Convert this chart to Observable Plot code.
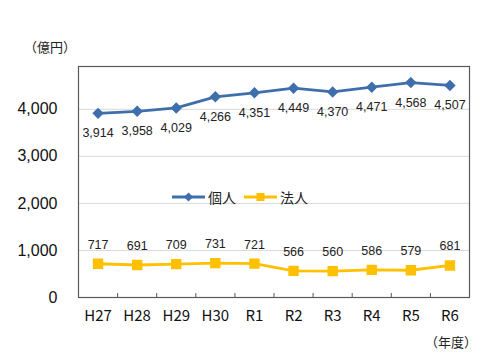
<!DOCTYPE html>
<html><head><meta charset="utf-8">
<script src="https://cdn.jsdelivr.net/npm/d3@7"></script>
<script src="https://cdn.jsdelivr.net/npm/@observablehq/plot@0.6"></script>
<style>
body{margin:0;background:#fff;font-family:"Noto Sans CJK JP",sans-serif;}
#wrap{position:relative;width:480px;height:353px;}
.lbl{position:absolute;font-size:13px;color:#222;white-space:nowrap;}
#legend{position:absolute;left:172px;top:187px;display:flex;align-items:center;font-size:14px;color:#222;}
#legend span{margin-right:8px;}
</style></head>
<body><div id="wrap"></div>
<script>
const years = ["H27","H28","H29","H30","R1","R2","R3","R4","R5","R6"];
const kojin = [3914,3958,4029,4266,4351,4449,4370,4471,4568,4507];
const hojin = [717,691,709,731,721,566,560,586,579,681];
const yTicks = [0,1000,2000,3000,4000];
const seriesNames = ["個人","法人"];
const colors = ["#3E6FAC","#FFC000"];

const rowsK = years.map((y,i)=>({i, v:kojin[i]}));
const rowsH = years.map((y,i)=>({i, v:hojin[i]}));
const fmt = d3.format(",");

const chart = Plot.plot({
  width:480, height:353,
  marginLeft:78, marginRight:11, marginTop:66, marginBottom:56,
  style:{fontFamily:"'Liberation Sans',sans-serif", background:"#fff"},
  x:{domain:[-0.5, years.length-0.5]},
  y:{domain:[0,4910]},
  marks:[
    Plot.gridY(yTicks.filter(d=>d>0), {stroke:"#d9d9d9", strokeOpacity:1}),
    Plot.axisY({ticks:yTicks, tickSize:0, tickPadding:21, tickFormat:fmt, fontSize:16, fill:"#111", label:null}),
    Plot.axisX({ticks:d3.range(years.length), tickFormat:i=>years[i], tickSize:0, tickPadding:13, fontSize:15, fill:"#111", label:null, fontFamily:"'Noto Sans CJK JP',sans-serif", style:{letterSpacing:"1.5px"}}),
    Plot.axisX({ticks:d3.range(years.length-1).map(i=>i+0.5), tickFormat:()=>"", tickSize:-4, stroke:"#595959", label:null}),
    Plot.frame({stroke:"#595959", strokeWidth:1.2}),
    Plot.line(rowsK, {x:"i", y:"v", stroke:colors[0], strokeWidth:2.8}),
    Plot.dot(rowsK, {x:"i", y:"v", symbol:"diamond2", r:4.2, fill:colors[0], stroke:colors[0]}),
    Plot.text(rowsK, {x:"i", y:"v", text:d=>fmt(d.v), dy:20, fontSize:12.5, fill:"#222"}),
    Plot.line(rowsH, {x:"i", y:"v", stroke:colors[1], strokeWidth:2.8}),
    Plot.dot(rowsH, {x:"i", y:"v", symbol:"square", r:5, fill:colors[1], stroke:colors[1]}),
    Plot.text(rowsH, {x:"i", y:"v", text:d=>fmt(d.v), dy:-19, fontSize:12.5, fill:"#222"})
  ]
});
const wrap = document.getElementById("wrap");
wrap.appendChild(chart);

const t1 = document.createElement("div"); t1.className="lbl"; t1.textContent="（億円）";
t1.style.left="24px"; t1.style.top="37px"; wrap.appendChild(t1);
const t2 = document.createElement("div"); t2.className="lbl"; t2.textContent="（年度）";
t2.style.left="425px"; t2.style.top="332px"; wrap.appendChild(t2);

const lg = document.createElement("div"); lg.id="legend";
lg.innerHTML =
 `<svg width="33" height="12"><line x1="0" x2="33" y1="6" y2="6" stroke="${colors[0]}" stroke-width="2.8"/><path d="M16.5 1.5 L21 6 L16.5 10.5 L12 6Z" fill="${colors[0]}"/></svg><span style="margin-left:3px">${seriesNames[0]}</span>` +
 `<svg width="33" height="12"><line x1="0" x2="33" y1="6" y2="6" stroke="${colors[1]}" stroke-width="2.8"/><rect x="12.5" y="2" width="8" height="8" fill="${colors[1]}"/></svg><span style="margin-left:3px">${seriesNames[1]}</span>`;
wrap.appendChild(lg);
</script></body></html>
